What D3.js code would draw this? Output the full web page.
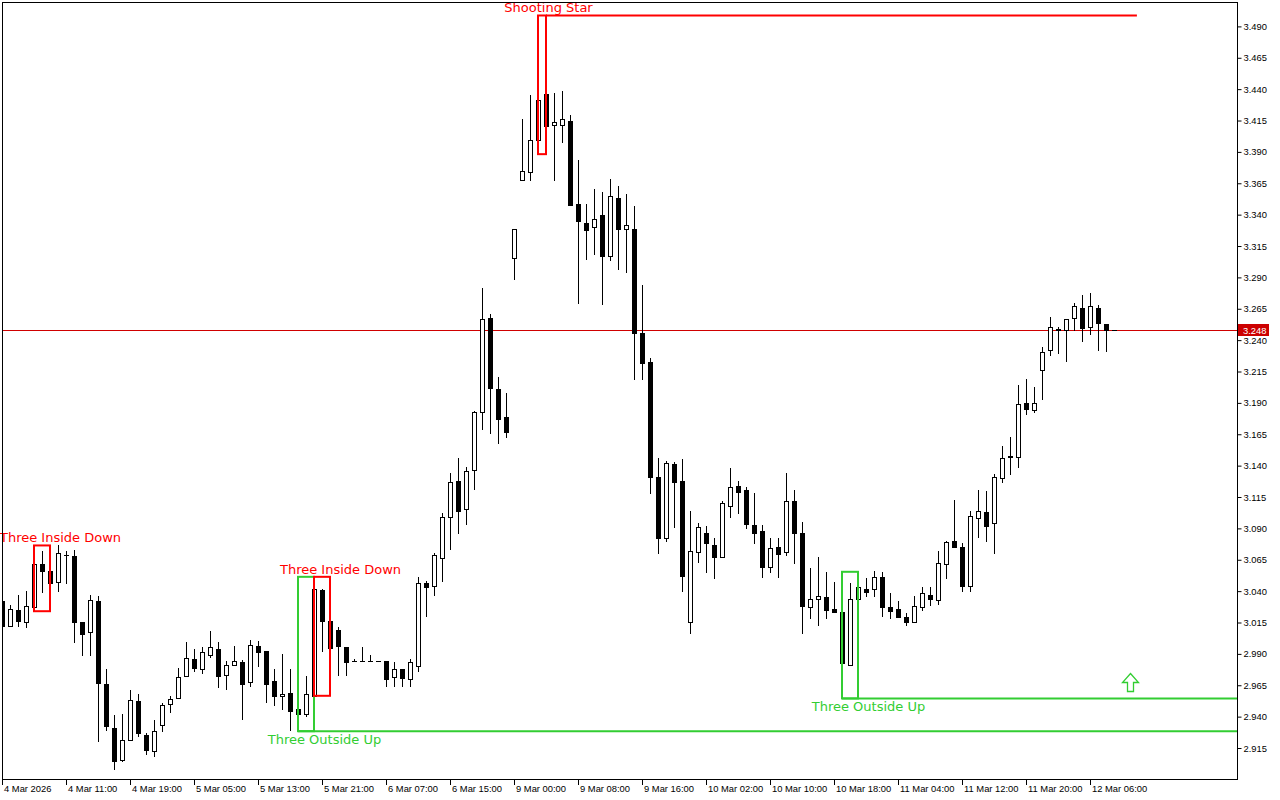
<!DOCTYPE html>
<html>
<head>
<meta charset="utf-8">
<script src="https://cdn.jsdelivr.net/npm/d3@7"></script>
<style>
html,body{margin:0;padding:0;background:#fff;}
svg{display:block;}
</style>
</head>
<body>
<svg id="chart" width="1280" height="800"></svg>
<script>
// ---------- DATA ----------
const opens = [3.032,3.0123,3.0248,3.0158,3.0270,3.0613,3.0559,3.0474,3.0687,3.0679,
3.0153,3.0071,3.0320,2.9656,2.9306,2.9053,2.9210,2.9523,2.9252,2.9130,
2.9332,2.9499,2.9545,2.9722,2.9858,2.9776,2.9892,2.9935,2.9728,2.9808,
2.9834,2.9677,2.9962,2.9922,2.9683,2.9561,2.9587,2.9460,2.9417,2.9566,
3.0408,3.0161,3.0089,2.9951,2.9844,2.9844,2.9844,2.9844,2.9840,2.9712,
2.9776,2.9696,2.9805,3.0464,3.0442,3.0665,3.0987,3.1274,3.1056,3.1369,
3.1828,3.2573,3.2009,3.1786,3.3051,3.3680,3.3741,3.3991,3.4365,3.4118,
3.4118,3.4145,3.3483,3.3334,3.3303,3.3396,3.3067,3.3529,3.3282,3.3282,
3.2453,3.2222,3.1308,3.0824,3.1412,3.1276,3.0155,3.0708,3.0867,3.0764,
3.0673,3.1075,3.1234,3.1202,3.0926,3.0878,3.0589,3.0748,3.0708,3.1117,
3.0862,3.0270,3.0334,3.0352,3.0254,3.0230,2.9808,3.0334,3.0413,3.0413,
3.0509,3.0270,3.0254,3.0190,3.0155,3.0272,3.0373,3.0330,3.0620,3.0798,
3.0750,3.0437,3.0984,3.1029,3.0939,3.1298,3.1475,3.1465,3.1903,3.1844,
3.2166,3.2322,3.2477,3.2477,3.2573,3.2660,3.2501,3.2660,3.2525,3.248];
const highs = [3.032,3.0286,3.0373,3.0405,3.0764,3.0718,3.0559,3.0766,3.0721,3.0726,
3.0153,3.0373,3.0360,2.9776,2.9412,2.9417,2.9611,2.9577,2.9271,2.9372,
2.9510,2.9566,2.9784,2.9991,2.9940,2.9951,3.0081,2.9993,2.9844,2.9962,
2.9852,3.0009,3.0001,2.9922,2.9778,2.9898,2.9781,2.9659,2.9722,3.0514,
3.0418,3.0328,3.0115,2.9951,2.9860,2.9951,2.9890,2.9844,2.9840,2.9832,
2.9776,2.9858,3.0509,3.0477,3.0703,3.1021,3.1338,3.1457,3.1393,3.1832,
3.2816,3.2607,3.2105,3.1975,3.3282,3.4161,3.4352,3.4471,3.4987,3.4373,
3.4386,3.4193,3.3834,3.3483,3.3603,3.3579,3.3683,3.3627,3.3563,3.3467,
3.2838,3.2254,3.1460,3.1436,3.1428,3.1452,3.1040,3.0939,3.0918,3.0820,
3.1122,3.1380,3.1274,3.1228,3.1183,3.0926,3.0820,3.0820,3.1342,3.1204,
3.0952,3.0585,3.0671,3.0551,3.0469,3.0230,3.0466,3.0554,3.0503,3.0559,
3.0551,3.0389,3.0320,3.0224,3.0362,3.0434,3.0434,3.0721,3.0801,3.1125,
3.0780,3.1037,3.1204,3.1197,3.1334,3.1555,3.1627,3.2041,3.2089,3.2023,
3.2342,3.2581,3.2504,3.2565,3.2692,3.2758,3.2774,3.2680,3.2525,3.248];
const lows = [3.0123,3.0123,3.0123,3.0115,3.0240,3.0394,3.0342,3.0400,3.0461,2.9996,
2.9895,2.9895,2.9205,2.9290,2.8984,2.9045,2.9210,2.9244,2.9099,2.9085,
2.9287,2.9438,2.9545,2.9722,2.9765,2.9749,2.9876,2.9637,2.9621,2.9808,
2.9382,2.9648,2.9802,2.9518,2.9491,2.9460,2.9292,2.9284,2.9406,2.9566,
2.9924,2.9725,2.9730,2.9730,2.9844,2.9844,2.9844,2.9844,2.9648,2.9645,
2.9645,2.9645,2.9765,3.0203,3.0370,3.0479,3.0737,3.0864,3.0936,3.1215,
3.1691,3.1661,3.1577,3.1629,3.2888,3.3680,3.3675,3.3882,3.4051,3.3675,
3.3980,3.3478,3.2697,3.3048,3.3087,3.2688,3.3040,3.2968,3.2944,3.2091,
3.2091,3.1178,3.0705,3.0801,3.0912,3.0402,3.0067,3.0633,3.0554,3.0501,
3.0673,3.0992,3.1024,3.0904,3.0785,3.0514,3.0554,3.0514,3.0687,3.0625,
3.0067,3.0187,3.0134,3.0187,3.0230,2.9545,2.9808,3.0240,3.0362,3.0362,
3.0203,3.0187,3.0195,3.0134,3.0155,3.0248,3.0288,3.0294,3.0501,3.0748,
3.0402,3.0402,3.0832,3.0801,3.0705,3.1271,3.1334,3.1390,3.1812,3.1828,
3.1932,3.2283,3.2299,3.2235,3.2477,3.2394,3.2445,3.2322,3.2314,3.248];
const closes = [3.0123,3.0254,3.0163,3.0278,3.0620,3.0561,3.0466,3.0700,3.0687,3.0155,
3.0055,3.0326,2.9664,2.9326,2.9043,2.9210,2.9529,2.9266,2.9135,2.9282,
2.9489,2.9537,2.9715,2.9871,2.9789,2.9911,2.9951,2.9720,2.9808,2.9840,
2.9661,2.9967,2.9916,2.9661,2.9566,2.9579,2.9446,2.9420,2.9577,3.0413,
3.0163,2.9943,2.9962,2.9836,2.9844,2.9844,2.9844,2.9844,2.9696,2.9776,
2.9709,2.9832,3.0461,3.0434,3.0687,3.0989,3.1266,3.1040,3.1356,3.1824,
3.2565,3.2015,3.1773,3.1669,3.3282,3.3744,3.3991,3.4310,3.4107,3.4142,
3.4161,3.3478,3.3350,3.3276,3.3369,3.3071,3.3547,3.3287,3.3314,3.2453,
3.2214,3.1311,3.0824,3.1420,3.1266,3.0522,3.0718,3.0915,3.0780,3.0668,
3.1099,3.1226,3.1191,3.0936,3.0864,3.0593,3.0740,3.0697,3.1117,3.0864,
3.0280,3.0334,3.0365,3.0246,3.0230,2.9828,3.0334,3.0432,3.0394,3.0509,
3.0275,3.0243,3.0195,3.0155,3.0278,3.0386,3.0334,3.0628,3.0788,3.0748,
3.0442,3.0995,3.1037,3.0920,3.1306,3.1457,3.1465,3.1895,3.1852,3.1903,
3.2302,3.2501,3.2485,3.2565,3.2676,3.2493,3.2676,3.2533,3.248,3.248];

const priceTicks = [2.915,2.940,2.965,2.990,3.015,3.040,3.065,3.090,3.115,3.140,3.165,3.190,
  3.215,3.240,3.265,3.290,3.315,3.340,3.365,3.390,3.415,3.440,3.465,3.490];
const timeLabelIndex = [0,8,16,24,32,40,48,56,64,72,80,88,96,104,112,120,128,136];
const timeLabels = ["4 Mar 2026","4 Mar 11:00","4 Mar 19:00","5 Mar 05:00","5 Mar 13:00","5 Mar 21:00",
  "6 Mar 07:00","6 Mar 15:00","9 Mar 00:00","9 Mar 08:00","9 Mar 16:00","10 Mar 02:00",
  "10 Mar 10:00","10 Mar 18:00","11 Mar 04:00","11 Mar 12:00","11 Mar 20:00","12 Mar 06:00"];

const patternNames = ["Three Inside Down","Three Outside Up","Three Inside Down","Shooting Star","Three Outside Up"];
const patternKinds = ["bear","bull","bear","bear","bull"];
const patternStart = [4,37,39,67,105];
const patternEnd   = [6,39,41,68,107];
const patternExtendTo = [null,"edge",null,141.8,"edge"];

const currentPrice = 3.248;
const arrowIndex = 140.9;
const arrowPrice = 2.9746;

// ---------- LAYOUT ----------
const plotL = 2, plotR = 1237, plotT = 2, plotB = 779;
const RED = "#ff0000", GREEN = "#32cd32", BIDRED = "#d00000";

const svg = d3.select("#chart");
svg.append("rect").attr("width",1280).attr("height",800).attr("fill","#fff");

const N = opens.length;
const x = d3.scaleLinear().domain([0, N - 1]).range([2.5, 2.5 + 8 * (N - 1)]);
const y = d3.scaleLinear().domain([2.915, 3.490]).range([748.0, 26.4]);
const ry = v => Math.round(y(v));

svg.append("defs").append("clipPath").attr("id","plotclip")
  .append("rect").attr("x",plotL+1).attr("y",plotT+1).attr("width",plotR-plotL-1).attr("height",plotB-plotT-1);

// current price line
svg.append("line")
  .attr("x1",plotL).attr("x2",plotR)
  .attr("y1",ry(currentPrice)+0.5).attr("y2",ry(currentPrice)+0.5)
  .attr("stroke",BIDRED).attr("stroke-width",1);

// candles
const data = d3.range(N).map(i => ({i, o:opens[i], h:highs[i], l:lows[i], c:closes[i]}));
const cg = svg.append("g").attr("clip-path","url(#plotclip)");
const candle = cg.selectAll("g.candle").data(data).join("g").attr("class","candle");

candle.filter(d => d.h !== d.l).append("line")
  .attr("x1",d => x(d.i)).attr("x2",d => x(d.i))
  .attr("y1",d => ry(d.h)).attr("y2",d => ry(d.l) + 1)
  .attr("stroke","#000").attr("stroke-width",1);

candle.each(function(d){
  const g = d3.select(this);
  const xc = x(d.i);
  const yo = ry(d.o), yc = ry(d.c);
  if (Math.abs(yo - yc) < 1) {
    g.append("line").attr("x1",xc-2.5).attr("x2",xc+2.5)
      .attr("y1",yo+0.5).attr("y2",yo+0.5).attr("stroke","#000").attr("stroke-width",1);
  } else if (d.c > d.o) {
    g.append("rect").attr("x",xc-2).attr("y",yc+0.5)
      .attr("width",4).attr("height",yo-yc)
      .attr("fill","#fff").attr("stroke","#000").attr("stroke-width",1);
  } else {
    g.append("rect").attr("x",xc-2.5).attr("y",yo)
      .attr("width",5).attr("height",Math.max(1,yc-yo+1))
      .attr("fill","#000");
  }
});

// patterns
const pg = svg.append("g");
patternNames.forEach((name, k) => {
  const s = patternStart[k], e = patternEnd[k];
  const hi = d3.max(highs.slice(s, e + 1));
  const lo = d3.min(lows.slice(s, e + 1));
  const col = patternKinds[k] === "bear" ? RED : GREEN;
  const x0 = x(s) - 0.5, x1 = x(e) - 0.5;
  const yT = y(hi), yB = y(lo);
  pg.append("rect").attr("x",x0).attr("y",yT).attr("width",x1-x0).attr("height",yB-yT)
    .attr("fill","none").attr("stroke",col).attr("stroke-width",2);
  const ext = patternExtendTo[k];
  if (ext !== null) {
    const xe = ext === "edge" ? plotR : x(ext);
    if (patternKinds[k] === "bull") {
      pg.append("line").attr("x1",x0).attr("x2",xe).attr("y1",yB).attr("y2",yB)
        .attr("stroke",col).attr("stroke-width",2);
    } else {
      pg.append("line").attr("x1",x1).attr("x2",xe).attr("y1",yT).attr("y2",yT)
        .attr("stroke",col).attr("stroke-width",2);
    }
  }
  const nb = e - s + 1;
  const tx = x(e) + 10 - 8 * (3 - nb);
  const ty = patternKinds[k] === "bear" ? yT - 3 : yB + 12.5;
  pg.append("text").attr("x",tx).attr("y",ty).attr("text-anchor","middle")
    .attr("font-family","DejaVu Sans, Verdana, sans-serif").attr("font-size",13)
    .attr("fill",col).text(name);
});

// up arrow
const ax = Math.round(x(arrowIndex)) + 0.5, ay = ry(arrowPrice) + 0.5;
svg.append("path")
  .attr("d",`M${ax},${ay} L${ax+8},${ay+9} L${ax+3},${ay+9} L${ax+3},${ay+18} L${ax-3},${ay+18} L${ax-3},${ay+9} L${ax-8},${ay+9} Z`)
  .attr("fill","#fff").attr("stroke",GREEN).attr("stroke-width",1.3);

// frame
svg.append("rect").attr("x",plotL+0.5).attr("y",plotT+0.5)
  .attr("width",plotR-plotL).attr("height",plotB-plotT)
  .attr("fill","none").attr("stroke","#000").attr("stroke-width",1);

// right price axis
const yAxis = d3.axisRight(y).tickValues(priceTicks).tickSize(4).tickPadding(2)
  .tickFormat(d3.format(".3f"));
const yg = svg.append("g").attr("transform",`translate(${plotR+0.5},0)`).call(yAxis);
yg.select(".domain").remove();
yg.selectAll(".tick line").attr("stroke","#000");
yg.selectAll(".tick text").attr("font-family","Liberation Sans, Arial, sans-serif")
  .attr("font-size",9.4).attr("fill","#000");

// current price label
const py = ry(currentPrice);
svg.append("rect").attr("x",plotR+1).attr("y",py-6).attr("width",31).attr("height",12).attr("fill","#cc0000");
svg.append("text").attr("x",plotR+6).attr("y",py+4).attr("font-family","Liberation Sans, Arial, sans-serif")
  .attr("font-size",9.4).attr("fill","#fff").text(d3.format(".3f")(currentPrice));

// bottom time axis
const xg = svg.append("g");
timeLabelIndex.forEach((idx, k) => {
  const tx = x(idx);
  xg.append("line").attr("x1",tx).attr("x2",tx).attr("y1",plotB).attr("y2",plotB+6)
    .attr("stroke","#000").attr("stroke-width",1);
  xg.append("text").attr("x",tx+1.5).attr("y",plotB+13)
    .attr("font-family","Liberation Sans, Arial, sans-serif").attr("font-size",9.4)
    .attr("fill","#000").text(timeLabels[k]);
});
</script>
</body>
</html>
